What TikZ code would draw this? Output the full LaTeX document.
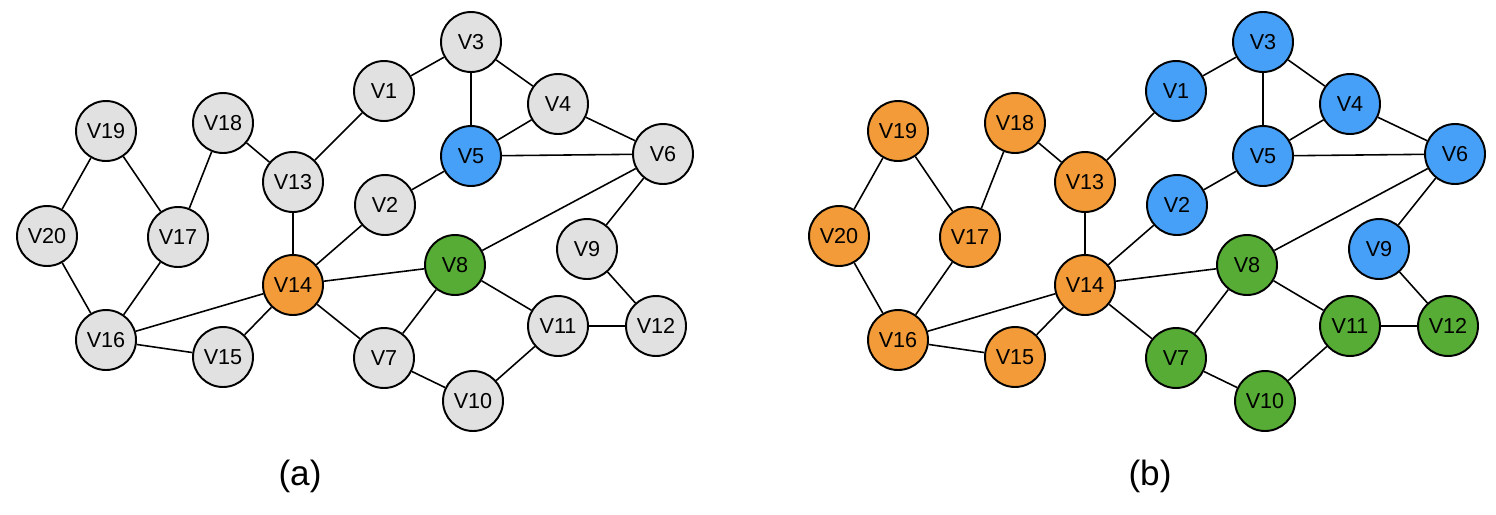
\documentclass[tikz,border=0pt]{standalone}
\usepackage{fontspec}
\setmainfont{Liberation Sans}
\definecolor{vgrayc}{HTML}{E1E1E1}
\definecolor{vbluec}{HTML}{47A0F7}
\definecolor{vorangec}{HTML}{F29B38}
\definecolor{vgreenc}{HTML}{56AC35}
\tikzset{
  vert/.style={circle,draw=black,line width=1.1pt,minimum size=1.2cm,inner sep=0pt,
    font=\fontsize{12.3}{14}\selectfont},
  vgray/.style={vert,fill=vgrayc},
  vblue/.style={vert,fill=vbluec},
  vorange/.style={vert,fill=vorangec},
  vgreen/.style={vert,fill=vgreenc},
  edge/.style={black,line width=0.9pt}
}

\begin{document}
\begin{tikzpicture}[x=0.02cm,y=-0.02cm]

\useasboundingbox (0,0) rectangle (1496,514);

% graph (a)
\begin{scope}
\node[vgray] (a1) at (384,91) {V1};
\node[vgray] (a2) at (385,205) {V2};
\node[vgray] (a3) at (471,42) {V3};
\node[vgray] (a4) at (558,104) {V4};
\node[vblue] (a5) at (471,156) {V5};
\node[vgray] (a6) at (663,154) {V6};
\node[vgray] (a7) at (384,358) {V7};
\node[vgreen] (a8) at (455,265) {V8};
\node[vgray] (a9) at (587,249) {V9};
\node[vgray] (a10) at (473,401) {V10};
\node[vgray] (a11) at (558,326) {V11};
\node[vgray] (a12) at (656,326) {V12};
\node[vgray] (a13) at (293,182) {V13};
\node[vorange] (a14) at (293,285) {V14};
\node[vgray] (a15) at (223,357) {V15};
\node[vgray] (a16) at (106,340) {V16};
\node[vgray] (a17) at (178,237) {V17};
\node[vgray] (a18) at (223,123) {V18};
\node[vgray] (a19) at (106,131) {V19};
\node[vgray] (a20) at (47,236) {V20};
\end{scope}

% graph (b)
\begin{scope}[xshift=792*0.02cm]
\node[vblue] (b1) at (384,91) {V1};
\node[vblue] (b2) at (385,205) {V2};
\node[vblue] (b3) at (471,42) {V3};
\node[vblue] (b4) at (558,104) {V4};
\node[vblue] (b5) at (471,156) {V5};
\node[vblue] (b6) at (663,154) {V6};
\node[vgreen] (b7) at (384,358) {V7};
\node[vgreen] (b8) at (455,265) {V8};
\node[vblue] (b9) at (587,249) {V9};
\node[vgreen] (b10) at (473,401) {V10};
\node[vgreen] (b11) at (558,326) {V11};
\node[vgreen] (b12) at (656,326) {V12};
\node[vorange] (b13) at (293,182) {V13};
\node[vorange] (b14) at (293,285) {V14};
\node[vorange] (b15) at (223,357) {V15};
\node[vorange] (b16) at (106,340) {V16};
\node[vorange] (b17) at (178,237) {V17};
\node[vorange] (b18) at (223,123) {V18};
\node[vorange] (b19) at (106,131) {V19};
\node[vorange] (b20) at (47,236) {V20};
\end{scope}

% edges
\foreach \g in {a,b}
  \foreach \u/\v in {1/3,3/4,3/5,4/5,4/6,5/6,1/13,18/13,13/14,19/20,19/17,18/17,
      20/16,17/16,16/14,16/15,15/14,14/2,2/5,14/8,14/7,8/6,6/9,9/12,8/7,8/11,
      11/12,7/10,10/11}
    \draw[edge] (\g\u) -- (\g\v);

\node[font=\fontsize{20}{24}\selectfont] (capa) at (300,476) {(a)};
\node[font=\fontsize{20}{24}\selectfont] (capb) at (1150,476) {(b)};

\end{tikzpicture}
\end{document}
